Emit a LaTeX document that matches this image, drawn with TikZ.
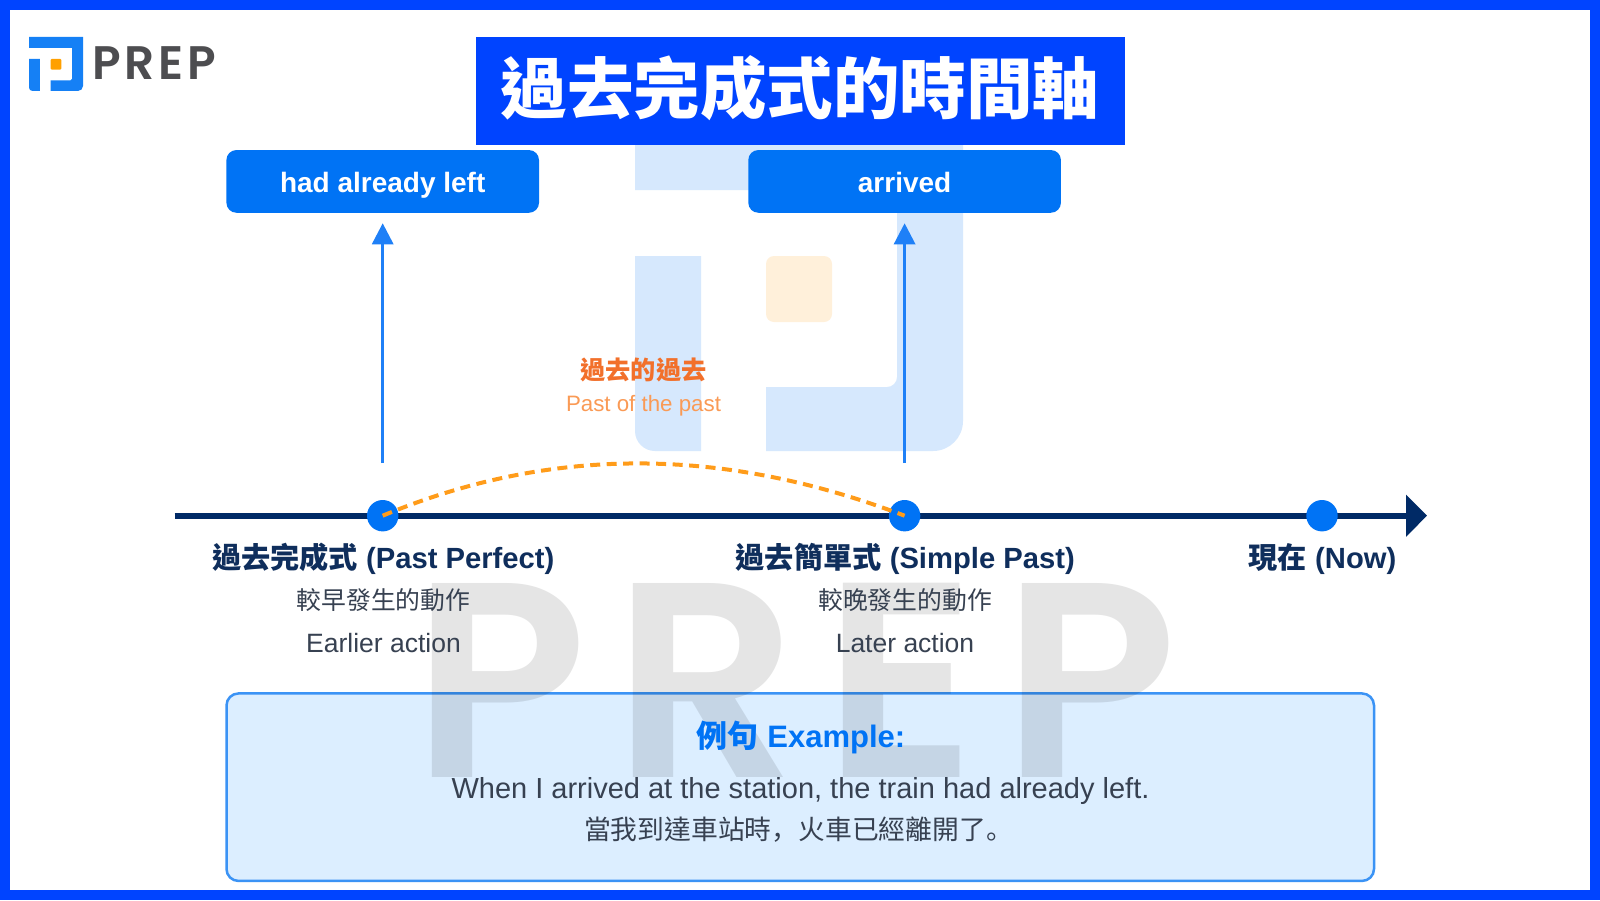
\documentclass[tikz,border=0pt]{standalone}
\usepackage{fontspec}
\usetikzlibrary{arrows.meta}
\setmainfont{Liberation Sans}
\newfontfamily\cjk{Noto Sans CJK TC}
\newfontfamily\cjkp{Noto Sans CJK SC}
\newfontfamily\logofont[LetterSpace=8]{Poppins SemiBold}
\newfontfamily\wmfont[LetterSpace=9]{Poppins SemiBold}
\definecolor{frameblue}{HTML}{0044FF}
\definecolor{mainblue}{HTML}{0073F5}
\definecolor{arrowblue}{HTML}{1F80F7}
\definecolor{markblue}{HTML}{D6E8FD}
\definecolor{markorange}{HTML}{FFF0DA}
\definecolor{logoorange}{HTML}{FFA000}
\definecolor{navy}{HTML}{002A66}
\definecolor{labelnavy}{HTML}{0F2E5C}
\definecolor{bodygrey}{HTML}{374151}
\definecolor{pastorange}{HTML}{F2702B}
\definecolor{pastlight}{HTML}{FA9A55}
\definecolor{dashorange}{HTML}{FF9C1A}
\definecolor{boxfill}{HTML}{DCEEFF}
\definecolor{boxline}{HTML}{3B93F5}
\definecolor{logoblue}{HTML}{1580F5}
\definecolor{logotext}{HTML}{4D4D50}
\newcommand{\fs}[1]{\fontsize{#1}{#1}\selectfont}
% #1 blue, #2 orange, #3 radius factor
\newcommand{\prepmark}[3]{%
  \fill[#1] (635,123) -- (963,123) [rounded corners=#3*30pt] -- (963,451) [sharp corners]
    -- (766,451) -- (766,387) [rounded corners=#3*10pt] -- (897,387) [sharp corners] -- (897,190) -- (635,190) -- cycle;
  \fill[#1] (635,256) -- (701,256) -- (701,451) [rounded corners=#3*20pt] -- (635,451) [sharp corners] -- cycle;
  \fill[#2,rounded corners=#3*8pt] (766,256) rectangle (832,322);
}
\tikzset{
  actionbox/.style={fill=mainblue,rounded corners=10pt,minimum width=312.6pt,minimum height=62.7pt,inner sep=0pt,text=white,font=\fs{28}\bfseries,text height=24pt,text depth=2pt},
  dotnode/.style={circle,fill=mainblue,minimum size=31.4pt,inner sep=0pt},
  uparrow/.style={arrowblue,line width=3pt,-{Triangle[length=21pt,width=21pt]}},
  heading/.style={text=labelnavy,font=\fs{29.2}\bfseries,inner sep=0pt},
  cjkline/.style={text=bodygrey,font=\fs{24.8}\cjk,inner sep=0pt},
  enline/.style={text=bodygrey,font=\fs{26.5},inner sep=0pt}
}
\begin{document}
\begin{tikzpicture}[x=1pt,y=-1pt]
\useasboundingbox (0,0) rectangle (1600,900);
\fill[white] (0,0) rectangle (1600,900);
% watermark mark
\prepmark{markblue}{markorange}{1}
% example box
\node[draw=boxline,fill=boxfill,line width=2.5pt,rounded corners=12pt,minimum width=1147.5pt,minimum height=187.5pt,inner sep=0pt] (example) at (800.25,787.2) {};
% watermark letters
\node[inner sep=0pt,text opacity=.10,text=black,font=\fs{278}\wmfont,xscale=1.035] (wm) at (795,680) {PREP};
% frame
\draw[frameblue,line width=10pt] (5,5) rectangle (1595,895);
% title
\node[fill=frameblue,minimum width=649pt,minimum height=108pt,inner sep=0pt,text=white,font=\fs{66.5}\cjk\bfseries,text height=51pt,text depth=7pt] (title) at (800,91) {過去完成式的時間軸};
% logo
\begin{scope}[shift={(-75.5,16.7)},scale=.1646]
\prepmark{logoblue}{logoorange}{.1646}
\end{scope}
\node[inner sep=0pt,text=logotext,font=\fs{47}\logofont,anchor=west] (logotxt) at (92,63) {PREP};
% action boxes
\node[actionbox] (b1) at (382.7,181.4) {had already left};
\node[actionbox] (b2) at (904.6,181.4) {arrived};
% timeline
\coordinate (tstart) at (174.5,515.7);
\coordinate (tend) at (1427,515.7);
\draw[navy,line width=6pt,-{Triangle[length=21pt,width=41pt]}] (tstart) -- (tend);
\node[dotnode] (d1) at (382.7,515.7) {};
\node[dotnode] (d2) at (904.6,515.7) {};
\node[dotnode] (d3) at (1322,515.7) {};
% arrows
\draw[uparrow,shorten <=52.7pt,shorten >=10.3pt] (d1.center) -- (b1.south);
\draw[uparrow,shorten <=52.7pt,shorten >=10.3pt] (d2.center) -- (b2.south);
% arc
\draw[dashorange,line width=4pt,dash pattern=on 10pt off 6.5pt] (d1.center) .. controls (550,446) and (722,446) .. (d2.center);
% arc label
\node[inner sep=0pt,text=pastorange,font=\fs{25.2}\cjk\bfseries] (pastzh) at (643.5,370) {過去的過去};
\node[inner sep=0pt,text=pastlight,font=\fs{22.3}] (pasten) at (643.5,406) {Past of the past};
% labels
\node[heading] (l1) at (383.2,559) {{\cjk 過去完成式} (Past Perfect)};
\node[cjkline] (l1a) at (383.5,600) {較早發生的動作};
\node[enline] (l1b) at (383.5,643) {Earlier action};
\node[heading] (l2) at (905.2,559) {{\cjk 過去簡單式} (Simple Past)};
\node[cjkline] (l2a) at (905,600) {較晚發生的動作};
\node[enline] (l2b) at (905,643) {Later action};
\node[heading] (l3) at (1322.5,559) {{\cjk 現在} (Now)};
% example text
\node[inner sep=0pt,text=mainblue,font=\fs{31}\bfseries] (ex1) at (801,737) {{\cjk 例句} Example:};
\node[inner sep=0pt,text=bodygrey,font=\fs{29}] (ex2) at (800.5,791) {When I arrived at the station, the train had already left.};
\node[inner sep=0pt,text=bodygrey,font=\fs{26.8}\cjk] (ex3) at (798.5,830) {當我到達車站時{\cjkp ，}火車已經離開了{\cjkp 。}};
\end{tikzpicture}
\end{document}
